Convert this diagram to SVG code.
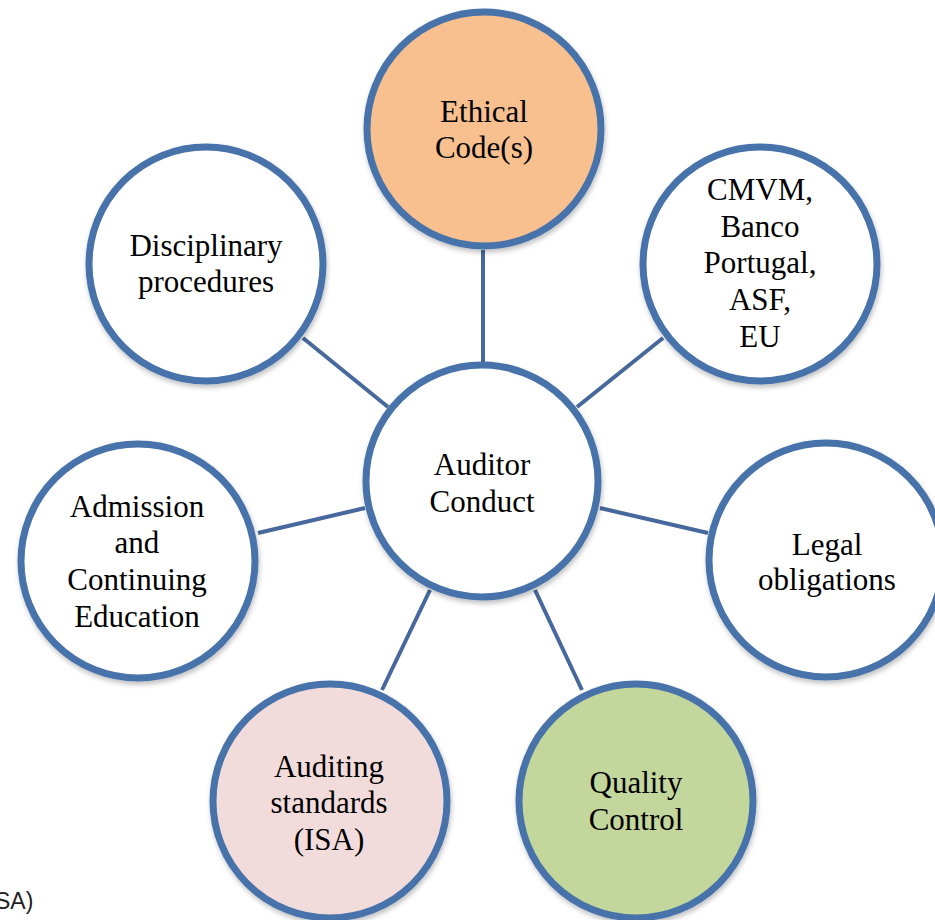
<svg xmlns="http://www.w3.org/2000/svg" width="935" height="920" viewBox="0 0 935 920">
<defs>
<filter id="sh" x="-10%" y="-10%" width="125%" height="125%">
<feDropShadow dx="1" dy="3" stdDeviation="2.5" flood-color="#000" flood-opacity="0.25"/>
</filter>
<style>
.c{stroke:#4672aa;stroke-width:7;filter:url(#sh)}
.w{fill:#ffffff}
.t{font-family:"Liberation Serif","Times New Roman",serif;font-size:31px;fill:#000;text-anchor:middle}
.ln{stroke:#46689c;stroke-width:4;fill:none}
</style>
</defs>
<rect width="935" height="920" fill="#ffffff"/>
<g id="connectors">
<line class="ln" x1="483" y1="250" x2="483" y2="364"/>
<line class="ln" x1="663" y1="338" x2="577" y2="407"/>
<line class="ln" x1="303" y1="338" x2="388" y2="407"/>
<line class="ln" x1="258" y1="533" x2="365" y2="508"/>
<line class="ln" x1="708" y1="533" x2="600" y2="508"/>
<line class="ln" x1="382" y1="690" x2="430" y2="590"/>
<line class="ln" x1="582" y1="690" x2="535" y2="590"/>
</g>
<g id="ethical">
<circle class="c" cx="484" cy="129" r="117" fill="#f9c08f"/>
<text class="t" x="484" y="122">Ethical</text>
<text class="t" x="484" y="158">Code(s)</text>
</g>
<g id="cmvm">
<circle class="c w" cx="760" cy="264" r="117"/>
<text class="t" x="760" y="200">CMVM,</text>
<text class="t" x="760" y="237">Banco</text>
<text class="t" x="760" y="273">Portugal,</text>
<text class="t" x="760" y="310">ASF,</text>
<text class="t" x="760" y="347">EU</text>
</g>
<g id="disciplinary">
<circle class="c w" cx="206" cy="264" r="117"/>
<text class="t" x="206" y="256">Disciplinary</text>
<text class="t" x="206" y="292">procedures</text>
</g>
<g id="auditor">
<circle class="c w" cx="482" cy="481" r="116"/>
<text class="t" x="482" y="475">Auditor</text>
<text class="t" x="482" y="512">Conduct</text>
</g>
<g id="admission">
<circle class="c w" cx="138" cy="561" r="117"/>
<text class="t" x="137" y="517">Admission</text>
<text class="t" x="137" y="553">and</text>
<text class="t" x="137" y="590">Continuing</text>
<text class="t" x="137" y="627">Education</text>
</g>
<g id="legal">
<circle class="c w" cx="826" cy="560" r="117"/>
<text class="t" x="827" y="555">Legal</text>
<text class="t" x="827" y="590">obligations</text>
</g>
<g id="auditing">
<circle class="c" cx="330" cy="801" r="117" fill="#f2dcdb"/>
<text class="t" x="329" y="777">Auditing</text>
<text class="t" x="329" y="813">standards</text>
<text class="t" x="329" y="850">(ISA)</text>
</g>
<g id="quality">
<circle class="c" cx="636" cy="801" r="117" fill="#c3d69b"/>
<text class="t" x="636" y="793">Quality</text>
<text class="t" x="636" y="830">Control</text>
</g>
<text x="-5" y="909" font-family="'Liberation Sans',Arial,sans-serif" font-size="23" fill="#222">SA)</text>
</svg>
